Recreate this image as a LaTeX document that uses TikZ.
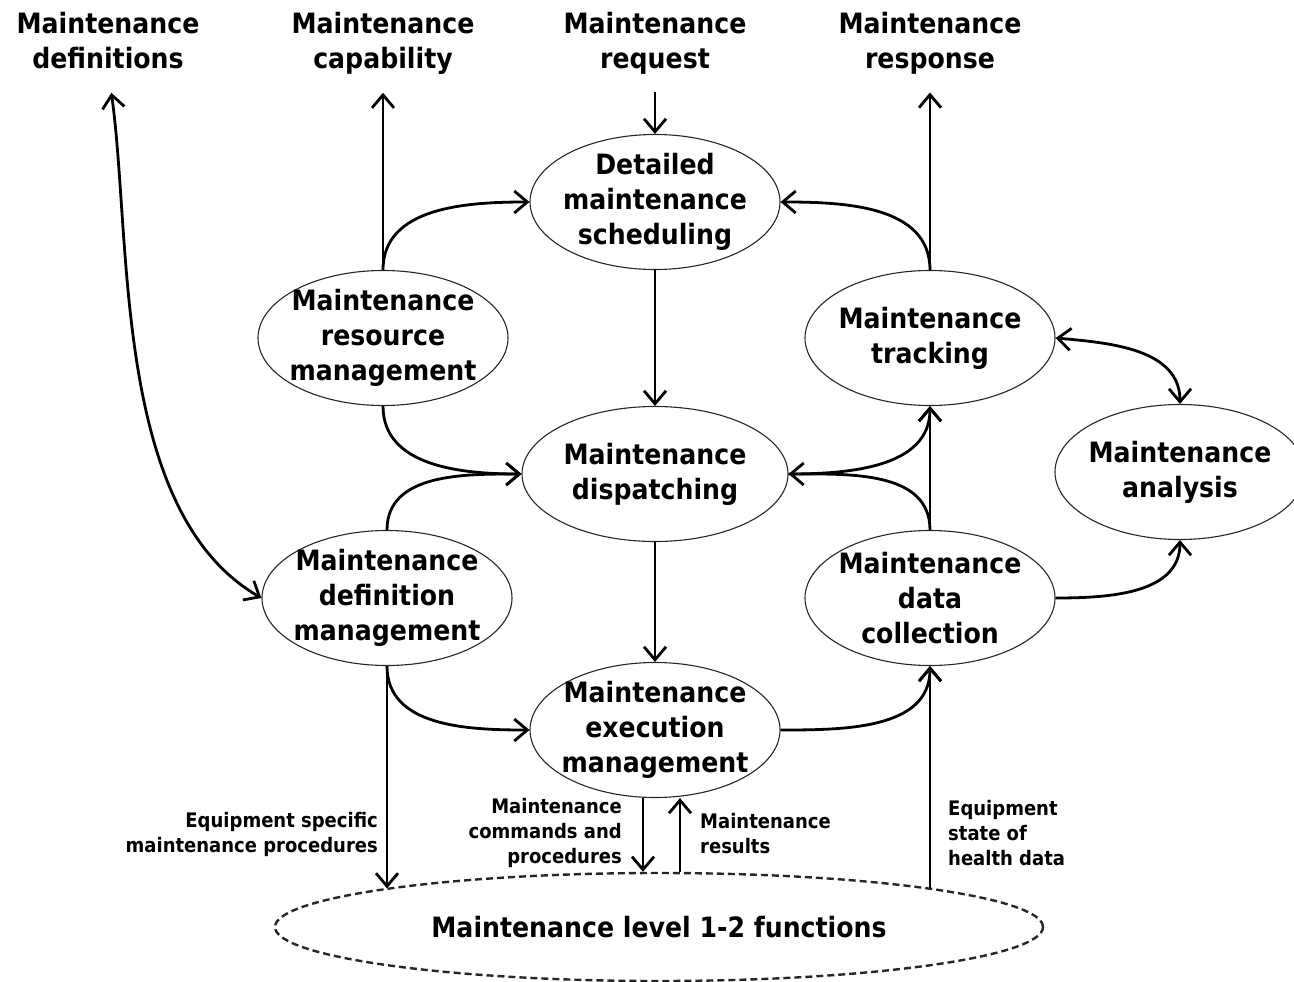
\documentclass[tikz,border=0pt]{standalone}
\usepackage{fontspec}
\setmainfont{DejaVu Sans}[FakeStretch=0.9]
\usetikzlibrary{shapes.geometric,arrows.meta}

\begin{document}
\begin{tikzpicture}
        [x=1pt,y=1pt,
         every node/.style={font=\fontsize{28}{35}\selectfont\bfseries,align=center},
         proc/.style={ellipse,draw=black!85,line width=1.1pt,minimum width=250pt,minimum height=135pt,inner sep=0pt},
         note/.style={font=\fontsize{20}{25}\selectfont\bfseries,inner sep=0pt},
         arr/.style={line width=2.8pt,-{Straight Barb[length=13pt,width=22pt]}},
         both/.style={line width=2.8pt,{Straight Barb[length=13pt,width=22pt]}-{Straight Barb[length=13pt,width=22pt]}}]
        \useasboundingbox (0,0) rectangle (1294,-982);

        % outside inputs and outputs
        \node[anchor=north,inner sep=0pt] (defs) at (108,-12) {Maintenance\\definitions};
        \node[anchor=north,inner sep=0pt] (cap) at (383,-12) {Maintenance\\capability};
        \node[anchor=north,inner sep=0pt] (req) at (655,-12) {Maintenance\\request};
        \node[anchor=north,inner sep=0pt] (resp) at (930,-12) {Maintenance\\response};

        % activities
        \node[proc,label={center:Detailed\\maintenance\\scheduling}] (sched) at (655,-202) {};
        \node[proc,label={center:Maintenance\\resource\\management}] (res) at (383,-338) {};
        \node[proc,label={center:Maintenance\\tracking}] (track) at (930,-338) {};
        \node[proc,minimum width=266pt,label={center:Maintenance\\dispatching}] (disp) at (655,-474) {};
        \node[proc,label={center:Maintenance\\analysis}] (anal) at (1180,-472) {};
        \node[proc,label={center:Maintenance\\definition\\management}] (defm) at (387,-598) {};
        \node[proc,label={center:Maintenance\\data\\collection}] (coll) at (930,-598) {};
        \node[proc,label={center:Maintenance\\execution\\management}] (exec) at (655,-730) {};
        \node[proc,dash pattern=on 7pt off 4pt,line width=2.4pt,minimum width=768pt,minimum height=108pt] (lvl) at (659,-927) {Maintenance level 1-2 functions};

        % connector labels
        \node[note,anchor=east,align=right] (n1) at (378,-834) {Equipment specific\\maintenance procedures};
        \node[note,anchor=east,align=right] (n2) at (622,-833) {Maintenance\\commands and\\procedures};
        \node[note,anchor=west,align=left] (n3) at (700,-834) {Maintenance\\results};
        \node[note,anchor=west,align=left] (n4) at (948,-833) {Equipment\\state of\\health data};

        \draw[both,shorten <=24pt] (defs.south) to[out=-82,in=150,looseness=0.8] (defm.west);
        \draw[arr,shorten >=18pt] (res.north) -- (cap.south);
        \draw[arr,shorten <=18pt] (req.south) -- (sched.north);
        \draw[arr,shorten >=18pt] (track.north) -- (resp.south);
        \draw[both] (track.east) to[out=-5,in=90] (anal.north);

        \foreach \from/\to in {sched.south/disp.north, disp.south/exec.north, coll.north/track.south}
            \draw[arr] (\from) -- (\to);

        \foreach \from/\to/\a/\b in {res.north/sched.west/90/180, track.north/sched.east/90/0,
                res.south/disp.west/-90/180, defm.north/disp.west/90/180,
                disp.east/track.south/0/-90, coll.north/disp.east/90/0,
                defm.south/exec.west/-90/180, exec.east/coll.south/0/-90, coll.east/anal.south/0/-90}
            \draw[arr] (\from) to[out=\a,in=\b] (\to);

        \draw[arr] (defm.south) -- (defm.south |- lvl.172);
        \draw[arr] (lvl.8 -| coll.south) -- (coll.south);
        \draw[arr] ([xshift=-12pt]exec.south) -- ([xshift=-12pt]exec.south |- lvl.north);
        \draw[arr] ([xshift=25pt]exec.south |- lvl.north) -- ([xshift=25pt]exec.south);

      \end{tikzpicture}
\end{document}
